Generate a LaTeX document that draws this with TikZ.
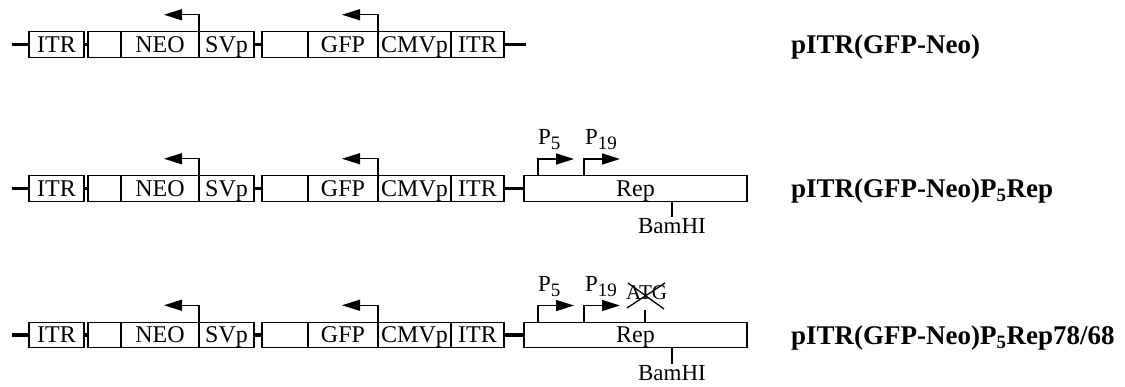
\documentclass[tikz,border=0pt]{standalone}
\usepackage{fontspec}
\setmainfont{Liberation Serif}
\usetikzlibrary{arrows.meta}
\newcommand\psub[1]{\raisebox{-5pt}{\fontsize{19}{19}\selectfont #1}}
\begin{document}
\begin{tikzpicture}[x=1pt,y=-1pt,
 seg/.style={draw, line width=1.3pt, minimum height=25.5pt, inner sep=0pt, outer sep=0pt, anchor=west,
   font=\fontsize{24}{26}\selectfont, text height=15.9pt, text depth=0pt},
 dna/.style={line width=3.5pt},
 tick/.style={line width=1.2pt},
 prom/.style={line width=1.4pt, -{Triangle[length=18pt,width=11pt]}},
 lbl/.style={inner sep=0pt, anchor=base west, font=\fontsize{23}{25}\selectfont},
 title/.style={inner sep=0pt, anchor=base west, font=\fontsize{27}{30}\selectfont\bfseries}]
\useasboundingbox (0,0) rectangle (1125,386);
\foreach \r/\yc in {1/44.5,2/188.5,3/335}{
  \node[seg, minimum width=55pt] (itrL\r) at (29,\yc) {ITR};
  \node[seg, minimum width=33pt] (blA\r) at (88,\yc) {};
  \node[seg, minimum width=78pt] (neo\r) at (121,\yc) {NEO};
  \node[seg, minimum width=55pt] (svp\r) at (199,\yc) {SVp};
  \node[seg, minimum width=46pt] (blB\r) at (262,\yc) {};
  \node[seg, minimum width=70pt] (gfp\r) at (308,\yc) {GFP};
  \node[seg, minimum width=73pt] (cmv\r) at (378,\yc) {CMVp};
  \node[seg, minimum width=53pt] (itrR\r) at (451,\yc) {ITR};
  \coordinate (lend\r) at (12,\yc);
  \draw[dna] (lend\r) -- (itrL\r.west);
  \draw[dna] (itrL\r.east) -- (blA\r.west);
  \draw[dna] (svp\r.east) -- (blB\r.west);
  \coordinate (na\r) at ({164},{\yc-29.75});
  \coordinate (ga\r) at ({342},{\yc-29.75});
  \draw[prom] (svp\r.north west) |- (na\r);
  \draw[prom] (cmv\r.north west) |- (ga\r);
}
% row 1 end
\coordinate (rend1) at (526,44.5);
\draw[dna] (itrR1.east) -- (rend1);
% rows 2 and 3: Rep
\foreach \r/\yc/\bam in {2/188.5/217,3/335/364}{
  \node[seg, minimum width=223pt] (rep\r) at (524,\yc) {Rep};
  \draw[dna] (itrR\r.east) -- (rep\r.west);
  \coordinate (p5s\r) at (538,\yc);
  \coordinate (p19s\r) at (584,\yc);
  \coordinate (p5t\r) at ({574},{\yc-29.5});
  \coordinate (p19t\r) at ({620},{\yc-29.5});
  \draw[prom] (rep\r.north -| p5s\r) |- (p5t\r);
  \draw[prom] (rep\r.north -| p19s\r) |- (p19t\r);
  \node[lbl] (p5l\r) at ({538},{\yc-44}) {P\psub{5}};
  \node[lbl] (p19l\r) at ({585},{\yc-44}) {P\psub{19}};
  \coordinate (bt\r) at (672,\bam);
  \draw[tick] (rep\r.south -| bt\r) -- (bt\r);
  \node[inner sep=0pt, anchor=north, font=\fontsize{23}{25}\selectfont] (bam\r) at ({672},{\bam+1}) {BamHI};
}
% ATG mutation
\node[lbl, font=\fontsize{21}{23}\selectfont] (atg) at (626,299) {ATG};
\coordinate (atgt) at (645,310);
\draw[tick] (rep3.north -| atgt) -- (atgt);
\draw[line width=1.3pt] (628,283) -- (664,309);
\draw[line width=1.3pt] (627,308) -- (665,283);
% titles
\node[title] (t1) at (791,53) {pITR(GFP-Neo)};
\node[title] (t2) at (791,197.5) {pITR(GFP-Neo)P\textsubscript{5}Rep};
\node[title] (t3) at (791,344.5) {pITR(GFP-Neo)P\textsubscript{5}Rep78/68};
\end{tikzpicture}
\end{document}
